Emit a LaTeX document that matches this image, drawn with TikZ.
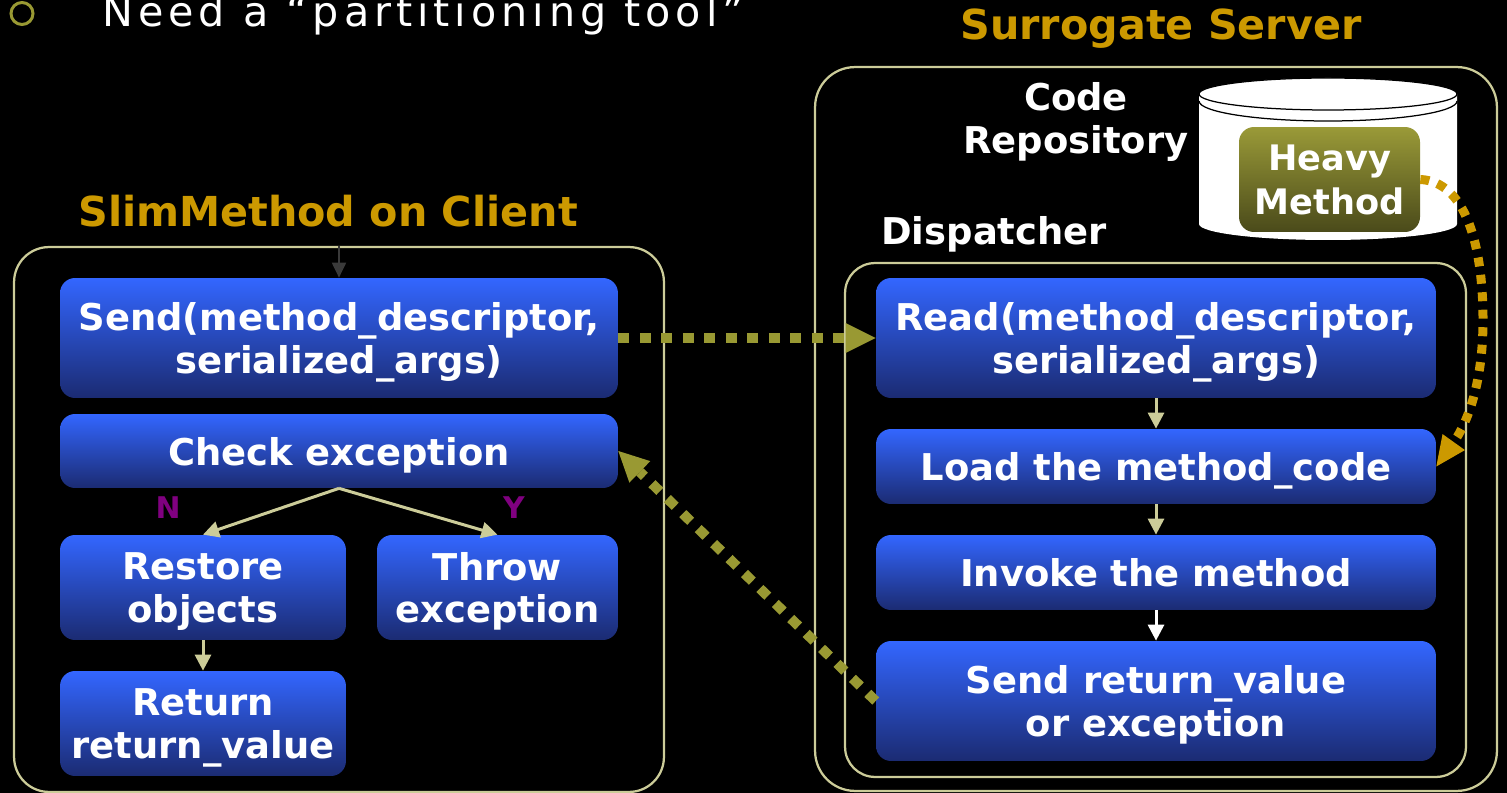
\documentclass[tikz,border=0pt]{standalone}
\usepackage{fontspec}
\setmainfont{DejaVu Sans}
\newfontfamily\spacedfont[LetterSpace=12]{DejaVu Sans}
\usetikzlibrary{arrows.meta}

\definecolor{frameline}{HTML}{CCCC99}
\definecolor{oliveline}{HTML}{999933}
\definecolor{goldline}{HTML}{CC9900}
\definecolor{labelpurple}{HTML}{800080}
\definecolor{btop}{HTML}{3366FF}
\definecolor{bmid}{HTML}{2C55E0}
\definecolor{bbot}{HTML}{1B2B72}
\definecolor{htop}{HTML}{9A9A38}
\definecolor{hbot}{HTML}{4A4A1A}
\definecolor{darkarrow}{HTML}{3A3A3A}

\tikzset{
  stepbox/.style={rectangle, rounded corners=0.3cm, inner sep=0pt,
    top color=btop, middle color=bmid, bottom color=bbot,
    text=white, align=center, text depth=0pt,
    font=\fontsize{21}{24}\selectfont\bfseries},
  heavybox/.style={rectangle, rounded corners=0.3cm, inner sep=0pt,
    top color=htop, bottom color=hbot,
    text=white, align=center, text depth=0pt,
    font=\fontsize{20}{25}\selectfont\bfseries},
  frame/.style={rectangle, draw=frameline, line width=0.045cm, inner sep=0pt},
  title/.style={text=goldline, font=\fontsize{23.5}{26}\selectfont\bfseries},
  plainlabel/.style={text=white, align=center, font=\fontsize{21}{25}\selectfont\bfseries},
  flow/.style={draw=frameline, line width=0.06cm,
    -{Triangle[length=0.32cm,width=0.32cm]}},
  flowwhite/.style={draw=white, line width=0.06cm,
    -{Triangle[length=0.32cm,width=0.32cm]}},
  message/.style={draw=oliveline, line width=0.2cm,
    dash pattern=on 0.22cm off 0.21cm,
    -{Triangle[length=0.6cm,width=0.6cm,line width=0pt]}},
  codeflow/.style={draw=goldline, line width=0.18cm,
    dash pattern=on 0.18cm off 0.17cm,
    -{Triangle[length=0.6cm,width=0.55cm,line width=0pt]}},
  branch/.style={text=labelpurple, font=\fontsize{17}{20}\selectfont\bfseries},
}

\begin{document}
\begin{tikzpicture}[x=0.02cm, y=-0.02cm]
  \useasboundingbox (0,0) rectangle (1507,793);
  \fill[black] (0,0) rectangle (1507,793);
  \clip (0,0) rectangle (1507,793);

  % bullet line at the top
  \draw[oliveline, line width=0.06cm] (22,13.5) circle[radius=11];
  \node[anchor=base west, inner sep=0pt, text=white,
        font=\fontsize{23.5}{27}\spacedfont] (headline) at (102,27)
        {Need a “partitioning tool”};

  % ---------------- client side ----------------
  \node[title] (clienttitle) at (328,211) {SlimMethod on Client};
  \node[frame, rounded corners=0.7cm, minimum width=13cm, minimum height=10.9cm]
        (client) at (339,519.5) {};

  \node[stepbox, minimum width=11.16cm, minimum height=2.4cm]
        (send) at (339,338) {Send(method\_descriptor,\\serialized\_args)};
  \node[stepbox, minimum width=11.16cm, minimum height=1.48cm]
        (check) at (339,451) {Check exception};
  \node[stepbox, minimum width=5.72cm, minimum height=2.1cm]
        (restore) at (203,587.5) {Restore\\objects};
  \node[stepbox, minimum width=4.82cm, minimum height=2.1cm]
        (throw) at (497.5,587.5) {Throw\\exception};
  \node[stepbox, minimum width=5.72cm, minimum height=2.1cm]
        (return) at (203,723.5) {Return\\return\_value};

  \draw[draw=darkarrow, line width=0.04cm, -{Triangle[length=0.3cm,width=0.28cm]}]
        (send.north |- client.north) -- (send.north);
  \draw[flow] (check.south) -- (restore.north);
  \draw[flow] (check.south) -- (throw.north);
  \draw[flow] (restore.south) -- (return.north);
  \node[branch] (nolabel) at (168,508) {N};
  \node[branch] (yeslabel) at (514,508) {Y};

  % ---------------- server side ----------------
  \node[title] (servertitle) at (1161,29) {Surrogate Server};
  \node[frame, rounded corners=0.8cm, minimum width=13.64cm, minimum height=14.48cm]
        (server) at (1156,429) {};
  \node[plainlabel] (repolabel) at (1076,122) {Code\\Repository};

  % code repository drum
  \fill[white] (1199,94) -- (1199,224)
        arc[start angle=180, end angle=0, x radius=129, y radius=16]
        -- (1457,94) -- cycle;
  \filldraw[fill=white, draw=black, line width=0.025cm]
        (1328,94) ellipse[x radius=129, y radius=16];
  \draw[black, line width=0.025cm] (1199,101)
        arc[start angle=180, end angle=0, x radius=129, y radius=20];
  \node[heavybox, minimum width=3.62cm, minimum height=2.1cm]
        (heavy) at (1329.5,179.5) {Heavy\\Method};

  \node[plainlabel, anchor=west, inner sep=0pt] (displabel) at (881,234) {Dispatcher};
  \node[frame, rounded corners=0.6cm, minimum width=12.42cm, minimum height=10.28cm]
        (dispatcher) at (1155.5,520) {};

  \node[stepbox, minimum width=11.2cm, minimum height=2.4cm]
        (read) at (1156,338) {Read(method\_descriptor,\\serialized\_args)};
  \node[stepbox, minimum width=11.2cm, minimum height=1.5cm]
        (load) at (1156,466.5) {Load the method\_code};
  \node[stepbox, minimum width=11.2cm, minimum height=1.5cm]
        (invoke) at (1156,572.5) {Invoke the method};
  \node[stepbox, minimum width=11.2cm, minimum height=2.4cm]
        (sendret) at (1156,701) {Send return\_value\\or exception};

  \draw[flow] (read.south) -- (load.north);
  \draw[flow] (load.south) -- (invoke.north);
  \draw[flowwhite] (invoke.south) -- (sendret.north);

  % messages between client and server
  \draw[message] (send.east) -- (read.west);
  \draw[message] (sendret.west) -- (check.east);

  % code fetched from the repository
  \coordinate (codebend) at (1483,320);
  \draw[codeflow] (heavy.east) .. controls +(45,2) and +(0,-75) .. (codebend)
        .. controls +(0,75) and +(25,-35) .. (load.east);
\end{tikzpicture}
\end{document}
